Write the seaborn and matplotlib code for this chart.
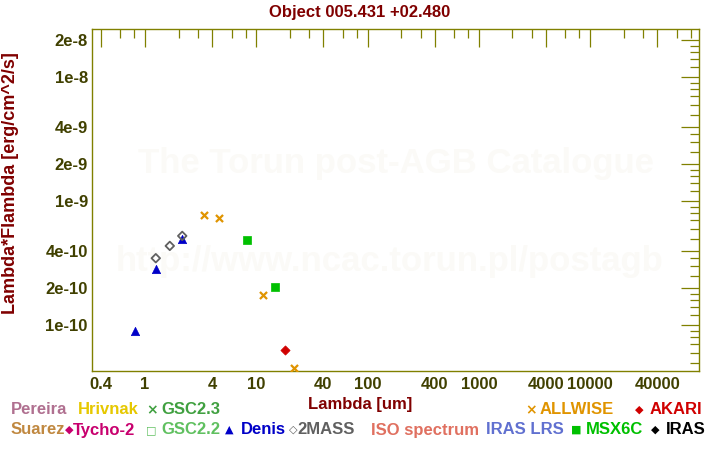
import matplotlib
matplotlib.use('Agg')
import matplotlib.pyplot as plt
import matplotlib.ticker as mticker
import pandas as pd
import seaborn as sns

# Photometrie : lambda [um] et lambda*F_lambda [erg/cm^2/s]
denis_wl = [0.82, 1.25, 2.15]
denis_flux = [8.9e-11, 2.84e-10, 5.0e-10]
mass2_wl = [1.25, 1.67, 2.16]
mass2_flux = [3.47e-10, 4.36e-10, 5.25e-10]
allwise_wl = [3.4, 4.65, 11.6, 22.0]
allwise_flux = [7.7e-10, 7.3e-10, 1.75e-10, 4.5e-11]
msx_wl = [8.3, 14.8]
msx_flux = [4.85e-10, 2.03e-10]
akari_wl = [18.2]
akari_flux = [6.3e-11]

# Graduations
x_major = [0.4, 1, 4, 10, 40, 100, 400, 1000, 4000, 10000, 40000]
x_labels = ['0.4', '1', '4', '10', '40', '100', '400', '1000', '4000', '10000', '40000']
y_major = [1e-10, 2e-10, 4e-10, 1e-9, 2e-9, 4e-9, 1e-8, 2e-8]
y_labels = ['1e-10', '2e-10', '4e-10', '1e-9', '2e-9', '4e-9', '1e-8', '2e-8']

# Légende (texte, couleur, symbole)
leg_names = ['Pereira', 'Hrivnak', 'GSC2.3', 'ALLWISE', 'AKARI',
             'Suarez', 'Tycho-2', 'GSC2.2', 'Denis', '2MASS',
             'ISO spectrum', 'IRAS LRS', 'MSX6C', 'IRAS']
leg_colors = ['#b07090', '#e6c800', '#40a040', '#e09400', '#d00000',
              '#c08840', '#c8006e', '#60c060', '#0000c8', '#606060',
              '#e07060', '#6070d0', '#00c000', '#000000']
leg_symbols = ['', '', '\u00d7', '\u00d7', '\u25c6',
               '', '\u25c6', '\u25a1', '\u25b2', '\u25c7',
               '', '', '\u25a0', '\u25c6']
# positions (pixels) : début du symbole / du texte, ligne
leg_sym_x = [None, None, 146, 525, 635, None, 65, 146, 225, 289, None, None, 571, 651]
leg_txt_x = [11, 78, 161, 540, 650, 11, 73, 161, 241, 297, 371, 486, 586, 666]
leg_row_y = [410, 410, 410, 410, 410, 430, 430, 430, 430, 430, 430, 430, 430, 430]

sns.set_style('white')
plt.rcParams['font.family'] = ['Liberation Sans', 'DejaVu Sans']
plt.rcParams['font.weight'] = 'bold'

W, H = 720, 450
fig = plt.figure(figsize=(7.2, 4.5), dpi=100)
ax = fig.add_axes([92 / W, 1 - 371 / H, 607 / W, 342 / H])

olive = '#808000'
darkred = '#800000'

# filigrane
ax.text(0.5, 0.608, 'The Torun post-AGB Catalogue', transform=ax.transAxes,
        ha='center', va='center', fontsize=25, color='#fbfaf7', zorder=0)
ax.text(0.49, 0.319, 'http://www.ncac.torun.pl/postagb', transform=ax.transAxes,
        ha='center', va='center', fontsize=25, color='#fbfaf7', zorder=0)

# Points
sns.scatterplot(x=denis_wl, y=denis_flux, marker='^', s=36, color='#0000c8',
                edgecolor='#0000c8', linewidth=0.5, ax=ax, zorder=3)
sns.scatterplot(x=mass2_wl, y=mass2_flux, marker='D', s=19, color='#606060',
                edgecolor='#606060', linewidth=1.3, ax=ax, zorder=4)
ax.collections[-1].set_facecolor('none')
sns.scatterplot(x=allwise_wl, y=allwise_flux, marker='x', s=26, color='#e09400',
                linewidth=1.6, ax=ax, zorder=3)
sns.scatterplot(x=msx_wl, y=msx_flux, marker='s', s=28, color='#00c000',
                edgecolor='#00c000', linewidth=0.5, ax=ax, zorder=3)
sns.scatterplot(x=akari_wl, y=akari_flux, marker='D', s=22, color='#d00000',
                edgecolor='#d00000', linewidth=0.5, ax=ax, zorder=3)

ax.set_xscale('log')
ax.set_yscale('log')
ax.set_xlim(0.334, 95000)
ax.set_ylim(4.27e-11, 2.45e-8)

ax.xaxis.set_major_locator(mticker.FixedLocator(x_major))
ax.xaxis.set_major_formatter(mticker.FixedFormatter(x_labels))
x_minor = [m * 10.0 ** d for d in range(-1, 5) for m in (2, 3, 6, 8)]
ax.xaxis.set_minor_locator(mticker.FixedLocator(x_minor))
ax.xaxis.set_minor_formatter(mticker.NullFormatter())

ax.yaxis.set_major_locator(mticker.FixedLocator(y_major))
ax.yaxis.set_major_formatter(mticker.FixedFormatter(y_labels))
y_minor = [m * 10.0 ** d for d in range(-11, -7)
           for m in (1.2, 1.4, 1.6, 1.8, 2.5, 3, 3.5, 5, 6, 7, 8, 9)]
ax.yaxis.set_minor_locator(mticker.FixedLocator(y_minor))
ax.yaxis.set_minor_formatter(mticker.NullFormatter())

ax.tick_params(which='both', direction='in', top=True, right=True,
               color=olive, width=0.9, labelcolor='#404000', labelsize=12)
ax.tick_params(which='major', length=13)
ax.tick_params(which='minor', length=6.5)
ax.tick_params(axis='x', pad=4)
ax.tick_params(axis='y', pad=3)
for sp in ax.spines.values():
    sp.set_color(olive)
    sp.set_linewidth(1.0)

ax.set_xlabel('Lambda [um]', fontsize=12, color=darkred, fontweight='bold')
ax.xaxis.set_label_coords((360 - 92) / 607, (371 - 405) / 342)
ax.xaxis.label.set_va('center')
ax.set_ylabel('Lambda*Flambda [erg/cm^2/s]', fontsize=13, color=darkred,
              fontweight='bold')
ax.yaxis.set_label_coords((11 - 92) / 607, (371 - 183) / 342)
ax.yaxis.label.set_va('center')

fig.suptitle('Object 005.431 +02.480', x=0.5, y=1 - 12 / H, va='center',
             fontsize=12, color=darkred, fontweight='bold')

# légende en texte coloré
for name, col, sym, sx, tx, ry in zip(leg_names, leg_colors, leg_symbols,
                                      leg_sym_x, leg_txt_x, leg_row_y):
    if sym:
        fig.text(sx / W, 1 - ry / H, sym, ha='left', va='center',
                 fontsize=10 if sym == '\u00d7' else 8, color=col,
                 family=['DejaVu Sans'])
    fig.text(tx / W, 1 - ry / H, name, ha='left', va='center',
             fontsize=12, color=col)

fig.savefig('out.png', dpi=100)
